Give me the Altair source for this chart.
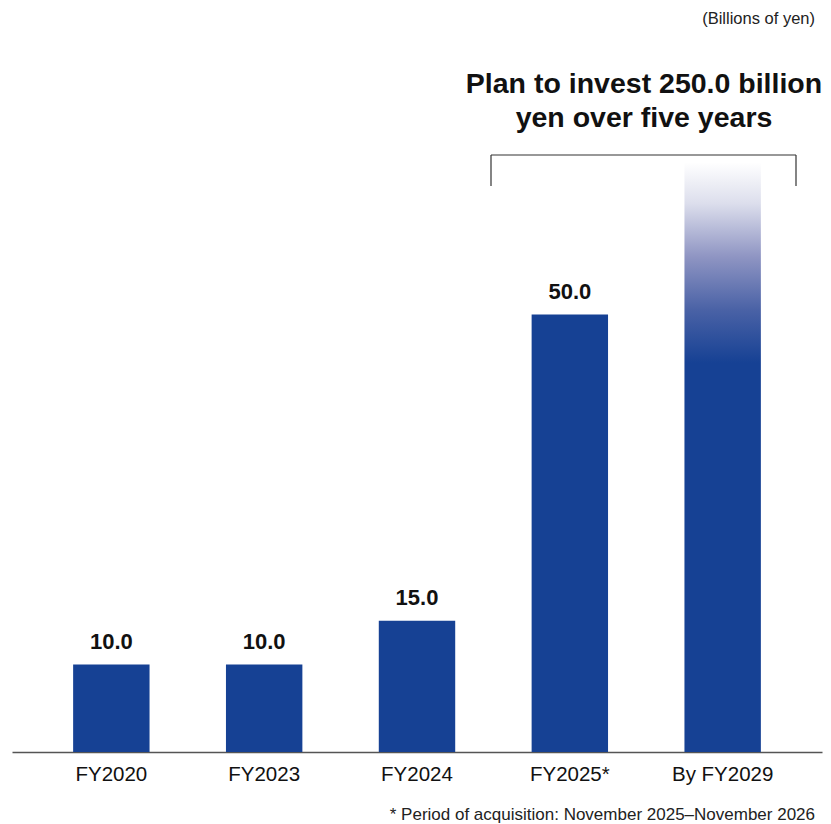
import altair as alt
import pandas as pd

categories = ["FY2020", "FY2023", "FY2024", "FY2025*", "By FY2029"]
values = [10.0, 10.0, 15.0, 50.0, None]
plan_bar_height = 67.4  # visual extent of the faded "By FY2029" bar
labels = ["10.0", "10.0", "15.0", "50.0", ""]

BLUE = "#164194"
FONT = "Liberation Sans"

df = pd.DataFrame({"cat": categories, "value": values, "label": labels})
solid = df[df["value"].notna()]
plan = pd.DataFrame({"cat": [categories[-1]], "value": [plan_bar_height]})

x = alt.X(
    "cat:N",
    sort=categories,
    scale=alt.Scale(paddingInner=0.5, paddingOuter=0.4),
    axis=alt.Axis(
        title=None, labelAngle=0, ticks=False, labelPadding=12,
        labelFontSize=20.5, labelColor="#111", labelFont=FONT,
        domainColor="#555", domainWidth=1.5, grid=False,
    ),
)
y = alt.Y("value:Q", scale=alt.Scale(domain=[0, 80]), axis=None)

bars = alt.Chart(solid).mark_bar(color=BLUE).encode(x=x, y=y)

grad = alt.Gradient(
    gradient="linear",
    x1=0, x2=0, y1=1, y2=0,
    stops=[
        alt.GradientStop(color=BLUE, offset=0.0),
        alt.GradientStop(color=BLUE, offset=0.66),
        alt.GradientStop(color="#4a62a6", offset=0.75),
        alt.GradientStop(color="#8f95c3", offset=0.84),
        alt.GradientStop(color="#dcdeec", offset=0.93),
        alt.GradientStop(color="#ffffff", offset=1.0),
    ],
)
plan_bar = alt.Chart(plan).mark_bar(color=grad).encode(x=x, y=y)

value_text = alt.Chart(solid).mark_text(
    baseline="bottom", dy=-11, fontSize=22, fontWeight="bold", font=FONT, color="#111"
).encode(x=x, y=y, text="label:N")

headline = alt.Chart(pd.DataFrame({"a": [0]})).mark_text(
    fontSize=28.5, fontWeight="bold", font=FONT, color="#111",
    align="center", baseline="middle", lineHeight=34,
).encode(
    x=alt.value(632), y=alt.value(32),
    text=alt.value(["Plan to invest 250.0 billion", "yen over five years"]),
)

unit = alt.Chart(pd.DataFrame({"a": [0]})).mark_text(
    fontSize=16.5, font=FONT, color="#222", align="right", baseline="middle"
).encode(x=alt.value(803), y=alt.value(-33), text=alt.value("(Billions of yen)"))

footnote = alt.Chart(pd.DataFrame({"a": [0]})).mark_text(
    fontSize=17, font=FONT, color="#222", align="right", baseline="middle"
).encode(x=alt.value(803), y=alt.value(763),
         text=alt.value("* Period of acquisition: November 2025\u2013November 2026"))

br = alt.Chart(pd.DataFrame({"a": [0]}))
bracket_top = br.mark_rule(color="#333", strokeWidth=1.2).encode(
    x=alt.value(479), x2=alt.value(784), y=alt.value(103))
bracket_l = br.mark_rule(color="#333", strokeWidth=1.2).encode(
    x=alt.value(479), y=alt.value(103), y2=alt.value(134))
bracket_r = br.mark_rule(color="#333", strokeWidth=1.2).encode(
    x=alt.value(784), y=alt.value(103), y2=alt.value(134))

chart = alt.layer(
    bars, plan_bar, value_text, headline, unit, footnote,
    bracket_top, bracket_l, bracket_r,
).properties(
    width=810, height=700,
    autosize=alt.AutoSizeParams(type="none"),
    padding={"left": 12, "top": 52, "right": 9, "bottom": 72},
).configure(background="white", view=alt.ViewConfig(stroke=None))

chart.save("out.html", embed_options={"renderer": "svg", "actions": False})
